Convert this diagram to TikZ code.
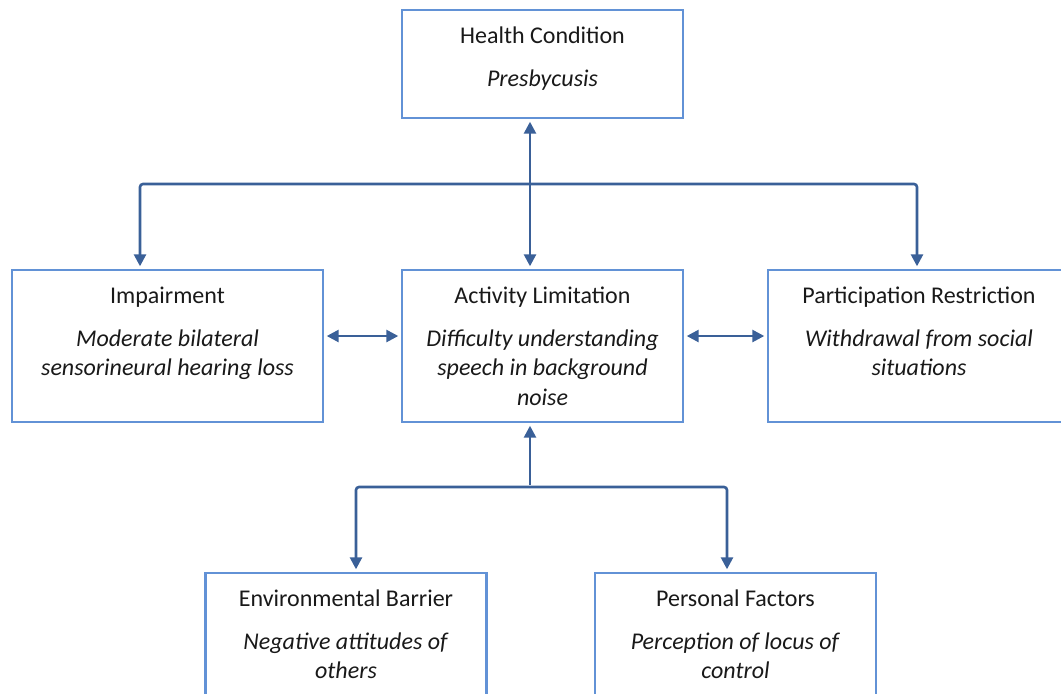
\documentclass[tikz,border=0pt]{standalone}
\usepackage{fontspec}
\setmainfont{Carlito}
\usetikzlibrary{arrows.meta,positioning,calc}
\definecolor{boxedge}{RGB}{98,146,214}
\definecolor{linkblue}{RGB}{58,96,152}
\definecolor{textgrey}{RGB}{25,25,25}
\tikzset{
	icfbox/.style={draw=boxedge,line width=1.3pt,minimum width=140.5pt,minimum height=54pt,inner sep=0pt},
	icftext/.style={anchor=north,align=center,inner sep=0pt,text=textgrey,font=\fontsize{12}{14.75}\selectfont},
	link/.style={draw=linkblue,line width=1.3pt,rounded corners=1.5pt,>={Triangle[width=6pt,length=6pt]},<->,shorten >=1.2pt,shorten <=1.2pt}
}

\begin{document}
\begin{tikzpicture}[x=0.5pt,y=-0.5pt]
		\useasboundingbox (0,0) rectangle (1061,693);
		\clip (0,0) rectangle (1061,693);
		% boxes
		\node[icfbox] (hc) at (542.5,64) {};
		\node[icfbox,minimum width=155.5pt,minimum height=76pt] (imp) at (167.5,346) {};
		\node[icfbox,minimum height=76pt] (act) at (542.5,346) {};
		\node[icfbox,minimum width=151pt,minimum height=76pt] (par) at (919,346) {};
		\node[icfbox,minimum height=80pt] (env) at (346,653) {};
		\node[icfbox,minimum height=80pt] (pf) at (735.5,653) {};
		% texts
		\node[icftext] (hc-t) at ([yshift=-8.8pt]hc.north) {Health Condition\\[6.75pt]\textit{Presbycusis}};
		\node[icftext] (imp-t) at ([yshift=-8.8pt]imp.north) {Impairment\\[6.75pt]\textit{Moderate bilateral}\\\textit{sensorineural hearing loss}};
		\node[icftext] (act-t) at ([yshift=-8.8pt]act.north) {Activity Limitation\\[6.75pt]\textit{Difficulty understanding}\\\textit{speech in background}\\\textit{noise}};
		\node[icftext] (par-t) at ([yshift=-8.8pt]par.north) {Participation Restriction\\[6.75pt]\textit{Withdrawal from social}\\\textit{situations}};
		\node[icftext] (env-t) at ([yshift=-8.8pt]env.north) {Environmental Barrier\\[6.75pt]\textit{Negative attitudes of}\\\textit{others}};
		\node[icftext] (pf-t) at ([yshift=-8.8pt]pf.north) {Personal Factors\\[6.75pt]\textit{Perception of locus of}\\\textit{control}};
		% connectors
		\coordinate (hub) at (530,184);
		\coordinate (hubl) at (140,184);
		\coordinate (hubr) at (917,184);
		\coordinate (mid) at (0,336);
		\coordinate (low) at (530,487);
		\coordinate (lowl) at (356,487);
		\coordinate (lowr) at (727,487);
		\draw[link] (hc.south -| hub) -- (act.north -| hub);
		\draw[link] (imp.north -| hubl) -- (hubl) -- (hubr) -- (par.north -| hubr);
		\draw[link] (imp.east |- mid) -- (act.west |- mid);
		\draw[link] (act.east |- mid) -- (par.west |- mid);
		\draw[link,->] (low) -- (act.south -| low);
		\draw[link] (env.north -| lowl) -- (lowl) -- (lowr) -- (pf.north -| lowr);
\end{tikzpicture}
\end{document}
